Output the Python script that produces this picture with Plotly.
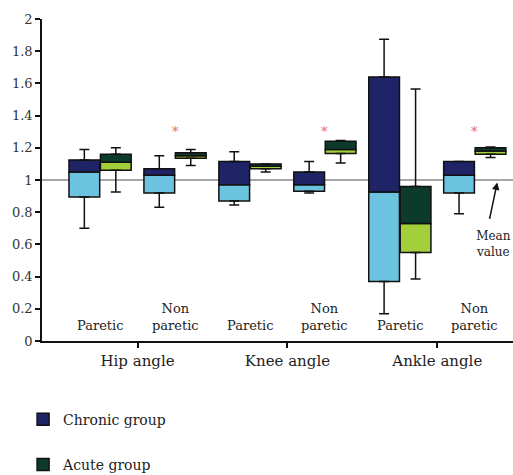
import plotly.graph_objects as go

# ---------------- data ----------------
joints = ["Hip angle", "Knee angle", "Ankle angle"]
cat_labels = ["Paretic", "Non<br>paretic", "Paretic", "Non<br>paretic", "Paretic", "Non<br>paretic"]

chronic_lo = [0.70, 0.83, 0.845, 0.92, 0.17, 0.79]
chronic_q1 = [0.895, 0.92, 0.87, 0.93, 0.37, 0.92]
chronic_med = [1.05, 1.03, 0.97, 0.97, 0.925, 1.03]
chronic_q3 = [1.125, 1.07, 1.115, 1.05, 1.64, 1.115]
chronic_hi = [1.19, 1.15, 1.175, 1.115, 1.875, 1.115]

acute_lo = [0.925, 1.09, 1.05, 1.105, 0.385, 1.14]
acute_q1 = [1.06, 1.135, 1.07, 1.165, 0.55, 1.16]
acute_med = [1.11, 1.15, 1.085, 1.19, 0.73, 1.18]
acute_q3 = [1.16, 1.17, 1.10, 1.24, 0.96, 1.20]
acute_hi = [1.20, 1.19, 1.10, 1.245, 1.565, 1.205]

significant = [False, True, False, True, False, True]
sig_level = 1.30
mean_value = 1.0

y_ticks = [0, 0.2, 0.4, 0.6, 0.8, 1, 1.2, 1.4, 1.6, 1.8, 2]
y_tick_text = ["0", "0.2", "0.4", "0.6", "0.8", "1", "1.2", "1.4", "1.6", "1.8", "2"]

# ---------------- layout helpers ----------------
FONT = "DejaVu Serif"
n = len(cat_labels)
pair_x = [2 * i for i in range(n)]
off = 0.42
bw = 0.82
chronic_x = [p - off for p in pair_x]
acute_x = [p + off for p in pair_x]
group_x = [(pair_x[2 * j] + pair_x[2 * j + 1]) / 2 for j in range(len(joints))]

C_DARK, C_LIGHT = "#1f2466", "#6cc3df"
A_DARK, A_LIGHT = "#0c3a2c", "#a3cf3a"
OUT = "#111111"

fig = go.Figure()


def add_group(xs, lo, q1, med, q3, hi, dark, light, name, grp):
    fig.add_trace(go.Bar(
        x=xs, base=q1, y=[m - a for m, a in zip(med, q1)], width=bw,
        marker=dict(color=light, line=dict(color=OUT, width=1.5)),
        legendgroup=grp, showlegend=False, hoverinfo="skip"))
    fig.add_trace(go.Bar(
        x=xs, base=med, y=[b - m for b, m in zip(q3, med)], width=bw,
        marker=dict(color=dark, line=dict(color=OUT, width=1.5)),
        name=name, legendgroup=grp, showlegend=True, hoverinfo="skip"))
    fig.add_trace(go.Scatter(
        x=xs + xs, y=q3 + q1, mode="markers",
        marker=dict(size=1, opacity=0),
        error_y=dict(type="data", symmetric=False,
                     array=[h - t for h, t in zip(hi, q3)] + [0] * len(xs),
                     arrayminus=[0] * len(xs) + [b - l for b, l in zip(q1, lo)],
                     color=OUT, thickness=1.5, width=5),
        legendgroup=grp, showlegend=False, hoverinfo="skip"))


add_group(chronic_x, chronic_lo, chronic_q1, chronic_med, chronic_q3, chronic_hi,
          C_DARK, C_LIGHT, "Chronic group", "chronic")
add_group(acute_x, acute_lo, acute_q1, acute_med, acute_q3, acute_hi,
          A_DARK, A_LIGHT, "Acute group", "acute")

fig.add_shape(type="line", xref="paper", x0=0, x1=1, yref="y", y0=mean_value, y1=mean_value,
              line=dict(color="#8a8a8a", width=1.5), layer="below")

annotations = []
for px, lab in zip(pair_x, cat_labels):
    annotations.append(dict(x=px, y=0.04, xref="x", yref="y", text=lab, showarrow=False,
                            yanchor="bottom", font=dict(family=FONT, size=13, color="#222")))
for px, s in zip(pair_x, significant):
    if s:
        annotations.append(dict(x=px, y=sig_level, xref="x", yref="y", text="*", showarrow=False,
                                font=dict(family=FONT, size=13, color="#e06a6a")))
annotations.append(dict(x=10.6, y=0.985, xref="x", yref="y", text="", showarrow=True,
                        arrowhead=2, arrowsize=1, arrowwidth=1.5, arrowcolor="#111",
                        ax=-8, ay=38))
annotations.append(dict(x=10.5, y=0.6, xref="x", yref="y", text="Mean<br>value", showarrow=False,
                        font=dict(family=FONT, size=12, color="#222")))

fig.update_layout(
    width=513, height=475,
    margin=dict(l=42, r=0, t=19, b=134, autoexpand=False),
    plot_bgcolor="white", paper_bgcolor="white",
    barmode="overlay",
    font=dict(family=FONT, size=13, color="#222"),
    annotations=annotations,
    legend=dict(x=0.045, xref="container", y=0.15, yref="container",
                xanchor="left", yanchor="top",
                font=dict(family=FONT, size=14, color="#222"),
                tracegroupgap=24, bgcolor="rgba(0,0,0,0)"),
    xaxis=dict(range=[-1.55, 11.02], tickmode="array", tickvals=group_x, ticktext=joints,
               showgrid=False, zeroline=False, showline=True, linecolor="#111", linewidth=1.5,
               ticks="outside", ticklen=5, tickwidth=1.5, tickcolor="#111",
               tickfont=dict(family=FONT, size=15, color="#222")),
    yaxis=dict(range=[0, 2], tickmode="array", tickvals=y_ticks, ticktext=y_tick_text,
               showgrid=False, zeroline=False, showline=True, linecolor="#111", linewidth=1.5,
               ticks="outside", ticklen=5, tickwidth=1.5, tickcolor="#111",
               tickfont=dict(family=FONT, size=13, color="#333")),
)

fig.write_html("out.html")
